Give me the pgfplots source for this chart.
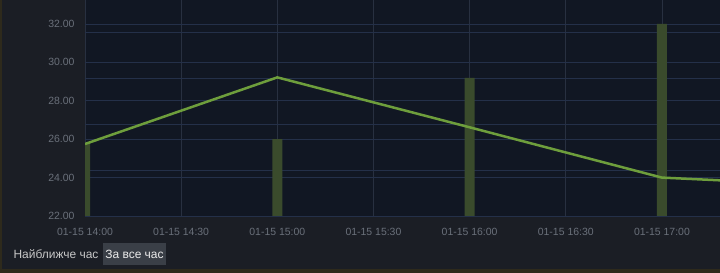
\documentclass[border=0pt]{standalone}
\usepackage{pgfplots}
\pgfplotsset{compat=1.18}
\usepackage{fontspec}
\setmainfont{Liberation Sans}

\definecolor{pagebg}{HTML}{1B1E25}
\definecolor{plotbg}{HTML}{111723}
\definecolor{gridmajor}{HTML}{243049}
\definecolor{gridminor}{HTML}{1D2535}
\definecolor{gridvert}{HTML}{283040}
\definecolor{ticktext}{HTML}{6A707A}
\definecolor{linegreen}{HTML}{6E9E3C}
\definecolor{bargreen}{HTML}{3A4B2C}
\definecolor{frameedge}{HTML}{2E2A1C}
\definecolor{btnbg}{HTML}{3A3F47}

\begin{document}
\begin{tikzpicture}
  % page background and frame edges
  \fill[pagebg, use as bounding box] (0,0) rectangle (720bp,273bp);
  \fill[frameedge] (0,0) rectangle (2bp,273bp);
  \fill[frameedge] (0,0) rectangle (720bp,4bp);

  \begin{axis}[
    at={(85bp,57bp)}, anchor=south west,
    scale only axis, width=635bp, height=216bp,
    xmin=0, xmax=3.302, ymin=22, ymax=33.25,
    axis background/.style={fill=plotbg},
    axis line style={draw=none},
    major tick length=0pt,
    xtick={0,0.5,1,1.5,2,2.5,3},
    xticklabels={01-15 14:00,01-15 14:30,01-15 15:00,01-15 15:30,01-15 16:00,01-15 16:30,01-15 17:00},
    ytick={22,24,26,28,30,32},
    yticklabels={22.00,24.00,26.00,28.00,30.00,32.00},
    extra y ticks={24.40,26.79,29.19,31.58},
    extra y tick labels={},
    extra y tick style={grid style={gridminor, line width=0.8bp}},
    ymajorgrids, xmajorgrids,
    y grid style={gridmajor, line width=0.8bp},
    x grid style={gridvert, line width=0.6bp},
    ticklabel style={font=\fontsize{10.5}{11}\selectfont, text=ticktext},
    xticklabel style={yshift=-9bp},
    yticklabel style={xshift=-7bp},
    clip=true,
  ]
    % hourly bars
    \addplot[ybar, bar width=10bp, fill=bargreen, draw=none]
      coordinates {(0,25.8) (1,26.0) (2,29.2) (3,32.0)};
    % temperature line
    \addplot[linegreen, line width=2.5bp, line join=round]
      coordinates {(0,25.75) (1,29.22) (2,26.62) (3,24.0) (4,23.53)};
  \end{axis}

  % period buttons
  \node[text=white!78!black, font=\fontsize{12}{14}\selectfont, anchor=center]
    at (56bp,19bp) {Найближче час};
  \fill[btnbg] (103bp,8bp) rectangle (166bp,30bp);
  \node[text=white!92!black, font=\fontsize{12}{14}\selectfont, anchor=center]
    at (134.5bp,19bp) {За все час};
\end{tikzpicture}
\end{document}
